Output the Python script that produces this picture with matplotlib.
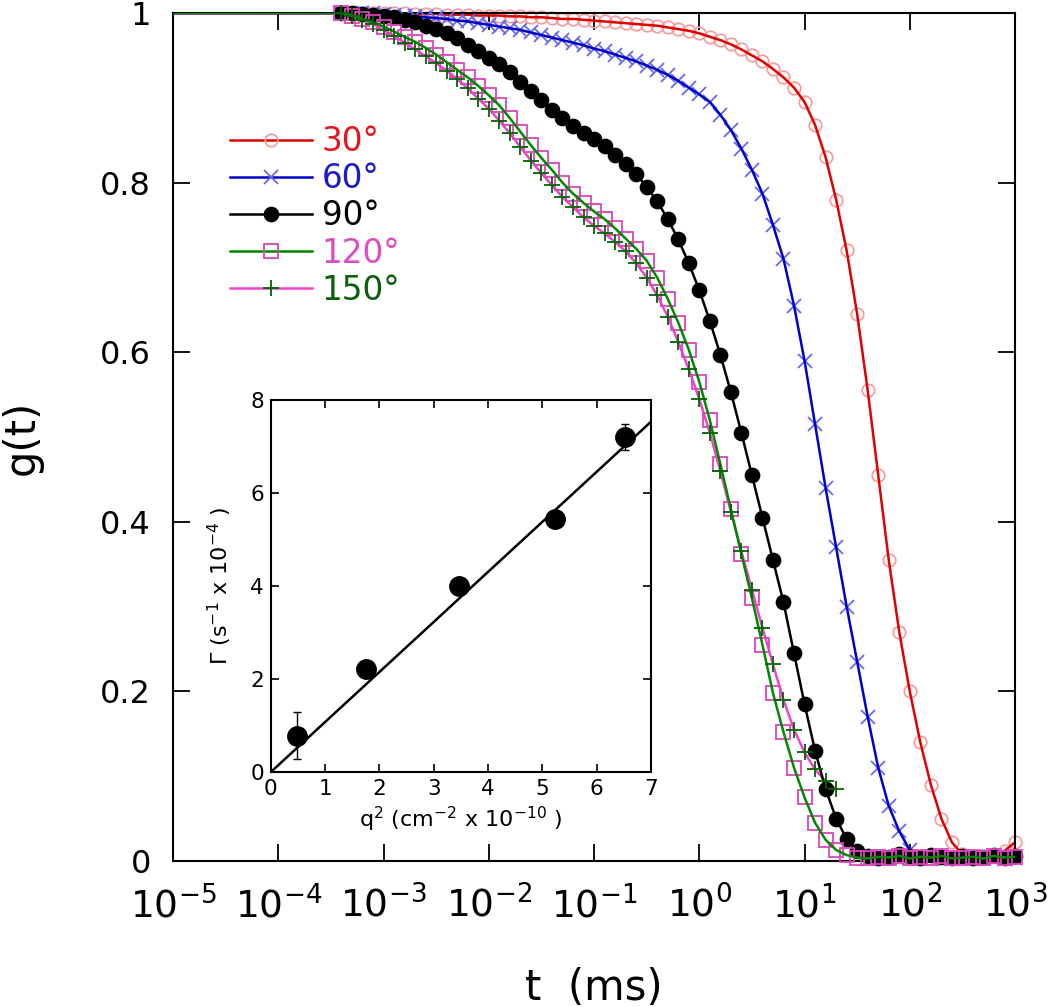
import numpy as np
import matplotlib
matplotlib.use('Agg')
import matplotlib.pyplot as plt
from matplotlib.lines import Line2D
from matplotlib.ticker import NullLocator, FixedLocator

plt.rcParams['font.family'] = ['DejaVu Sans']
plt.rcParams['mathtext.default'] = 'regular'

log_t = np.round(np.arange(-3.4, 3.05, 0.1), 1)
t = 10 ** log_t

# g(t) read for each scattering angle
g30 = [1.0, 1.0, 1.0, 1.0, 1.0, 1.0, 1.0, 0.999, 0.999, 0.999, 0.998, 0.998, 0.998, 0.997, 0.997,
       0.997, 0.996, 0.996, 0.995, 0.995, 0.994, 0.993, 0.993, 0.992, 0.991,
       0.99, 0.989, 0.988, 0.987, 0.986, 0.985, 0.983, 0.981, 0.979, 0.976,
       0.972, 0.968, 0.963, 0.957, 0.95, 0.943, 0.934, 0.924, 0.912, 0.895,
       0.868, 0.83, 0.78, 0.72, 0.645, 0.555, 0.455, 0.355, 0.27, 0.20,
       0.14, 0.09, 0.05, 0.022, 0.008, 0.004, 0.003, 0.006, 0.012, 0.022]
g60 = [1.0, 1.0, 1.0, 1.0, 0.999, 0.998, 0.997, 0.996, 0.995, 0.994, 0.993, 0.991, 0.99, 0.988, 0.986,
       0.984, 0.982, 0.98, 0.977, 0.974, 0.971, 0.968, 0.965, 0.962, 0.958,
       0.955, 0.951, 0.947, 0.943, 0.938, 0.933, 0.927, 0.92, 0.912, 0.904,
       0.895, 0.88, 0.862, 0.84, 0.815, 0.787, 0.75, 0.71, 0.655, 0.59,
       0.515, 0.44, 0.37, 0.30, 0.235, 0.17, 0.11, 0.065, 0.035, 0.013,
       0.004, 0.002, 0.003, 0.002, 0.003, 0.002, 0.004, 0.003, 0.002, 0.003]
g90 = [1.0, 1.0, 0.999, 0.998, 0.997, 0.995, 0.992, 0.989, 0.985, 0.981, 0.976, 0.97, 0.962, 0.955, 0.947,
       0.94, 0.93, 0.919, 0.908, 0.897, 0.886, 0.876, 0.867, 0.859, 0.851,
       0.843, 0.833, 0.822, 0.81, 0.795, 0.778, 0.757, 0.733, 0.705, 0.673,
       0.637, 0.597, 0.553, 0.505, 0.455, 0.405, 0.355, 0.305, 0.245, 0.185,
       0.13, 0.085, 0.05, 0.026, 0.012, 0.006, 0.004, 0.005, 0.008, 0.006,
       0.004, 0.007, 0.005, 0.003, 0.006, 0.004, 0.005, 0.007, 0.004, 0.006]
g120 = [1.0, 0.997, 0.993, 0.989, 0.984, 0.978, 0.972, 0.966, 0.959, 0.951, 0.942, 0.933, 0.924, 0.914, 0.903,
        0.891, 0.876, 0.86, 0.844, 0.829, 0.815, 0.8, 0.787, 0.776, 0.766,
        0.757, 0.746, 0.734, 0.722, 0.708, 0.688, 0.663, 0.635, 0.603, 0.565,
        0.52, 0.468, 0.415, 0.362, 0.31, 0.255, 0.198, 0.152, 0.11, 0.075,
        0.045, 0.025, 0.013, 0.007, 0.004, 0.003, 0.005, 0.004, 0.006, 0.003,
        0.005, 0.004, 0.006, 0.003, 0.004, 0.005, 0.003, 0.006, 0.004, 0.005]
# the 150 deg data stop at about 20 ms
g150 = [1.0, 0.996, 0.992, 0.987, 0.98, 0.973, 0.965, 0.957, 0.949, 0.941, 0.932, 0.922, 0.911, 0.899, 0.887,
        0.873, 0.858, 0.842, 0.826, 0.811, 0.797, 0.783, 0.771, 0.759, 0.749,
        0.74, 0.73, 0.719, 0.705, 0.688, 0.667, 0.642, 0.612, 0.58, 0.545,
        0.505, 0.46, 0.412, 0.365, 0.32, 0.275, 0.232, 0.19, 0.155, 0.128,
        0.108, 0.094, 0.085]

labels = ['30°', '60°', '90°', '120°', '150°']

# inset: decay rate vs q^2
q2 = [0.48, 1.76, 3.47, 5.23, 6.53]
gamma = [0.78, 2.21, 3.99, 5.43, 7.21]
gamma_err = [0.5, 0.12, 0.05, 0.05, 0.28]
fit_q2 = [0, 7]
fit_gamma = [0, 7.53]

fig = plt.figure(figsize=(10.5, 10.07), dpi=100)
ax = fig.add_axes([0.1648, 0.145, 0.8019, 0.8421])

# (values, marker, marker colour, line colour, marker size, text colour)
series = [
    (g30, 'o', '#f4a0a0', '#e00000', 9, '#e8141a'),
    (g60, 'x', '#6868ee', '#0000cc', 9.5, '#1a1acc'),
    (g90, 'o', 'black', 'black', 10, 'black'),
    (g120, 's', '#dd44bb', '#008800', 9.5, '#d94fbf'),
    (g150, '+', '#006400', '#ee44cc', 11.5, '#0a5f0a'),
]

handles = []
for i, (g, mk, mc, lc, ms, tc) in enumerate(series):
    tt = t[:len(g)]
    filled = mk == 'o' and mc == 'black'
    ax.plot(tt, g, linestyle='none', marker=mk, ms=ms,
            mfc=mc if filled else 'none', mec=mc, mew=1.3, clip_on=False, zorder=2 + i)
    # fitted curve, from the plateau at 1e-5 ms
    tf = np.concatenate([[1e-5], tt])
    gf = np.concatenate([[1.0], g])
    lz = 1 if lc == '#ee44cc' else 2.5 + i
    ax.plot(tf, gf, color=lc, lw=1.8, zorder=lz)
    handles.append(Line2D([], [], color=lc, lw=1.8, marker=mk, ms=ms,
                          mfc=mc if filled else 'none', mec=mc, mew=1.3))

ax.set_xscale('log')
ax.set_xlim(1e-5, 1e3)
ax.set_ylim(0, 1)
ax.xaxis.set_major_locator(FixedLocator(10.0 ** np.arange(-5, 4)))
ax.xaxis.set_minor_locator(NullLocator())
ax.set_yticks([0, 0.2, 0.4, 0.6, 0.8, 1.0])
ax.set_yticklabels(['0', '0.2', '0.4', '0.6', '0.8', '1'])
ax.tick_params(axis='both', direction='in', top=True, right=True, length=12, width=1.3)
ax.tick_params(axis='x', labelsize=27, pad=18)
ax.tick_params(axis='y', labelsize=23, pad=16)
for s in ax.spines.values():
    s.set_linewidth(1.5)
ax.set_xlabel('t  (ms)', fontsize=30)
ax.xaxis.set_label_coords(0.5, -0.125)
ax.set_ylabel('g(t)', fontsize=30)
ax.yaxis.set_label_coords(-0.155, 0.5)

leg = ax.legend(handles, labels, loc='upper left', bbox_to_anchor=(0.068, 0.868),
                frameon=False, fontsize=23.5, handlelength=2.5, handletextpad=0.3,
                labelspacing=0.13, borderpad=0, borderaxespad=0, numpoints=1)
for txt, s in zip(leg.get_texts(), series):
    txt.set_color(s[5])

# inset
ax_in = fig.add_axes([0.258, 0.2334, 0.3619, 0.3694])
ax_in.plot(fit_q2, fit_gamma, color='black', lw=1.8)
ax_in.errorbar(q2, gamma, yerr=gamma_err, fmt='o', color='black', ms=14,
               capsize=3, elinewidth=1, capthick=1)
ax_in.set_xlim(0, 7)
ax_in.set_ylim(0, 8)
ax_in.set_xticks(range(0, 8))
ax_in.set_yticks([0, 2, 4, 6, 8])
ax_in.tick_params(direction='in', top=True, right=True, length=6, width=1.2,
                  labelsize=15.5, pad=5)
for s in ax_in.spines.values():
    s.set_linewidth(1.5)
ax_in.set_xlabel('q$^{2}$ (cm$^{-2}$ x 10$^{-10}$ )', fontsize=16, labelpad=4)
ax_in.set_ylabel('Γ (s$^{-1}$ x 10$^{-4}$ )', fontsize=16, labelpad=12)

fig.savefig('out.png', dpi=100)
